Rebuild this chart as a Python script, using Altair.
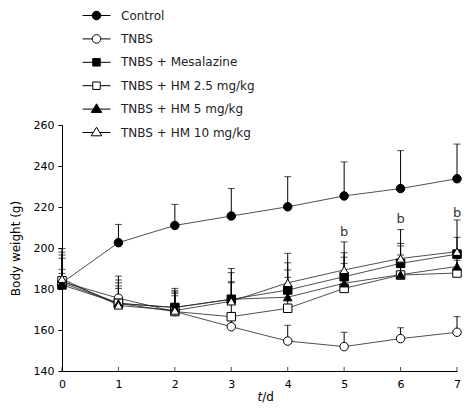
import altair as alt
import pandas as pd

days = [0, 1, 2, 3, 4, 5, 6, 7]
groups = ["Control", "TNBS", "TNBS + Mesalazine", "TNBS + HM 2.5 mg/kg",
          "TNBS + HM 5 mg/kg", "TNBS + HM 10 mg/kg"]

control = [183, 202.6, 211, 215.6, 220.1, 225.4, 229, 233.8]
tnbs = [183.5, 175.5, 169, 161.6, 154.6, 151.9, 155.8, 158.9]
mesalazine = [182, 173, 171, 175, 179.5, 186, 192.5, 197]
hm25 = [184, 173, 169, 166.5, 170.6, 180.3, 186.8, 187.8]
hm5 = [183, 173, 171, 175, 176, 182.8, 187, 191]
hm10 = [185, 172, 169.5, 174, 183, 189.3, 194.9, 198.2]

control_top = [199.7, 211.5, 221.3, 229, 234.8, 242, 247.5, 250.7]
tnbs_top = [198, 186.3, 180.3, 168, 162.3, 158.9, 161.1, 166.5]
mesalazine_top = [189.6, 181.5, 177.9, 188, 192.8, 195.5, 202.2, 205.2]
hm25_top = [195, 184.4, 176.7, 183.6, 185.7, 192.5, 196.6, 194]
hm5_top = [187.6, 180.3, 179.2, 190, 189.3, 197.7, 201, 199]
hm10_top = [196.6, 183, 178.5, 183, 197.4, 203, 209, 213.7]

b_days = [5, 6, 7]
b_y = [208, 214, 217]

y_ticks = [140, 160, 180, 200, 220, 240, 260]

rows = []
for g, means, tops in zip(groups,
                          [control, tnbs, mesalazine, hm25, hm5, hm10],
                          [control_top, tnbs_top, mesalazine_top, hm25_top, hm5_top, hm10_top]):
    for d, m, t in zip(days, means, tops):
        rows.append({"day": d, "group": g, "mean": m, "top": t})
df = pd.DataFrame(rows)
bdf = pd.DataFrame({"day": b_days, "y": b_y, "label": ["b"] * len(b_days)})
ddf = pd.DataFrame({"day": days})
one = pd.DataFrame({"k": [0]})

FONT = "DejaVu Sans"

xs = alt.Scale(domain=[0, 7], nice=False, zero=False)
ys = alt.Scale(domain=[140, 260], nice=False, zero=False)

x = alt.X("day:Q", scale=xs,
          axis=alt.Axis(values=days, ticks=False, labelPadding=7, title=None,
                        format="d", grid=False, labelFlush=False, labelOverlap=False))
y = alt.Y("mean:Q", scale=ys,
          axis=alt.Axis(values=y_ticks, tickSize=4, title="Body weight (g)",
                        titlePadding=11, grid=False, labelPadding=4))

base = alt.Chart(df)

lines = base.mark_line(color="#222", strokeWidth=0.8).encode(x=x, y=y, detail="group:N")
err = base.mark_rule(color="black", strokeWidth=1).encode(x="day:Q", y="mean:Q", y2="top:Q")
caps = base.mark_tick(color="black", orient="horizontal", size=7, thickness=1).encode(
    x="day:Q", y="top:Q")

shape_scale = alt.Scale(domain=groups, range=["circle", "circle", "square", "square",
                                              "triangle-up", "triangle-up"])
fill_scale = alt.Scale(domain=groups, range=["black", "white", "black", "white", "black", "white"])
size_scale = alt.Scale(domain=groups, range=[72, 72, 52, 60, 72, 80])

points = base.mark_point(filled=True, stroke="black", strokeWidth=1, opacity=1).encode(
    x="day:Q", y="mean:Q",
    shape=alt.Shape("group:N", scale=shape_scale, legend=None),
    fill=alt.Fill("group:N", scale=fill_scale, legend=None),
    size=alt.Size("group:N", scale=size_scale, legend=None),
)

circle_p = "M-1.27,0H-0.39M0.39,0H1.27M-0.39,0A0.39,0.39 0 1,1 0.39,0A0.39,0.39 0 1,1 -0.39,0Z"
square_p = "M-1.27,0H-0.34M0.34,0H1.27M-0.34,-0.34H0.34V0.34H-0.34Z"
tri_p = "M-1.27,0H-0.3M0.3,0H1.27M0,-0.48L0.48,0.3H-0.48Z"
leg_shape = alt.Scale(domain=groups, range=[circle_p, circle_p, square_p, square_p, tri_p, tri_p])
leg_fill = alt.Scale(domain=groups, range=["black", "white", "black", "white", "black", "white"])
leg_stroke = alt.Scale(domain=groups, range=["black"] * 6)
legend = alt.Legend(orient="none", legendX=23, legendY=-121, title=None, padding=0,
                    symbolSize=484, rowPadding=5.4, labelOffset=13, labelFont=FONT,
                    labelFontSize=12, labelColor="#222", symbolStrokeWidth=1,
                    symbolOpacity=1)
leg = base.transform_filter("false").mark_point(filled=True, strokeWidth=1).encode(
    x="day:Q", y="mean:Q",
    shape=alt.Shape("group:N", scale=leg_shape, legend=legend),
    fill=alt.Fill("group:N", scale=leg_fill, legend=legend),
    stroke=alt.Stroke("group:N", scale=leg_stroke, legend=legend),
)

btext = alt.Chart(bdf).mark_text(font=FONT, fontSize=13, color="#333", baseline="middle").encode(
    x="day:Q", y="y:Q", text="label:N")

xticks = alt.Chart(ddf).mark_tick(orient="vertical", size=4, thickness=1, color="black",
                                  yOffset=-2).encode(x="day:Q", y=alt.datum(140))

t_text = alt.Chart(one).mark_text(text="t", font=FONT, fontSize=12, fontStyle="italic",
                                  align="right", baseline="middle", dy=26, color="black").encode(
    x=alt.datum(3.55), y=alt.datum(140))
d_text = alt.Chart(one).mark_text(text="/d", font=FONT, fontSize=12,
                                  align="left", baseline="middle", dy=26, color="black").encode(
    x=alt.datum(3.55), y=alt.datum(140))

chart = alt.layer(lines, err, caps, points, leg, btext, xticks, t_text, d_text).resolve_scale(
    shape="independent", fill="independent", stroke="independent"
).properties(
    width=395, height=246,
    padding={"left": 54, "top": 117, "right": 7, "bottom": 34},
    autosize=alt.AutoSizeParams(type="none"),
    background="white",
).configure_view(stroke=None).configure_axis(
    domainColor="black", tickColor="black", labelColor="black", titleColor="black",
    labelFont=FONT, titleFont=FONT, labelFontSize=11, titleFontSize=12,
    titleFontWeight="normal", domainWidth=1, tickWidth=1,
)

chart.save("out.html", embed_options={"renderer": "svg", "actions": False})
